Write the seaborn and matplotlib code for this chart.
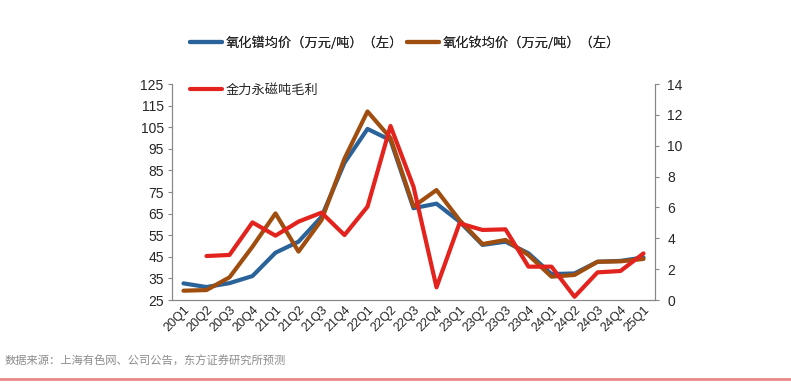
import numpy as np
import pandas as pd
import matplotlib
matplotlib.use("Agg")
import matplotlib.pyplot as plt
import seaborn as sns

categories = ["20Q1", "20Q2", "20Q3", "20Q4", "21Q1", "21Q2", "21Q3", "21Q4",
              "22Q1", "22Q2", "22Q3", "22Q4", "23Q1", "23Q2", "23Q3", "23Q4",
              "24Q1", "24Q2", "24Q3", "24Q4", "25Q1"]
pr_oxide = [32.7, 31.0, 32.8, 36.1, 46.9, 52.0, 63.5, 88.5,
            104.2, 99.0, 67.5, 69.6, 61.3, 50.5, 52.0, 46.6,
            37.0, 37.3, 42.7, 43.1, 44.7]
nd_oxide = [29.3, 29.6, 35.5, 49.7, 65.1, 47.4, 62.0, 90.5,
            112.3, 100.0, 68.3, 75.9, 62.0, 50.9, 52.8, 45.8,
            35.8, 36.6, 42.7, 42.9, 44.0]
jl_margin = [np.nan, 2.85, 2.92, 5.03, 4.17, 5.08, 5.66, 4.21,
             6.05, 11.28, 7.35, 0.82, 4.97, 4.54, 4.58, 2.16,
             2.16, 0.21, 1.79, 1.88, 3.02]

name_pr = "氧化镨均价（万元/吨）（左）"
name_nd = "氧化钕均价（万元/吨）（左）"
name_jl = "金力永磁吨毛利"
left_ticks = list(range(25, 126, 10))
right_ticks = list(range(0, 15, 2))

sns.set_style("white")
plt.rcParams["font.family"] = ["Noto Sans CJK SC", "DejaVu Sans"]

C_BLUE = "#2a6399"
C_BROWN = "#a04d10"
C_RED = "#e3231d"
GRAY = "#888888"

pos = np.arange(len(categories))
df = pd.DataFrame({"pos": pos, "pr": pr_oxide, "nd": nd_oxide, "jl": jl_margin})

fig = plt.figure(figsize=(7.91, 3.84), dpi=100)
ax = fig.add_axes([172 / 791, 1 - 300 / 384, (655 - 172) / 791, (300 - 84) / 384])
ax2 = ax.twinx()

sns.lineplot(data=df, x="pos", y="pr", ax=ax, color=C_BLUE, lw=3, label=name_pr, legend=False)
sns.lineplot(data=df, x="pos", y="nd", ax=ax, color=C_BROWN, lw=3, label=name_nd, legend=False)
sns.lineplot(data=df.dropna(), x="pos", y="jl", ax=ax2, color=C_RED, lw=3, label=name_jl, legend=False)

ax.set_xlim(-0.5, len(categories) - 0.5)
ax.set_ylim(25, 125)
ax2.set_ylim(0, 14)
ax.set_yticks(left_ticks)
ax2.set_yticks(right_ticks)
ax.set_xticks(pos)
ax.set_xticklabels(categories, rotation=45, ha="right", va="top",
                   rotation_mode="anchor", family=["Liberation Sans"], fontsize=9)
ax.set_xticks(np.arange(-0.5, len(categories), 1), minor=True)
ax.tick_params(axis="x", which="major", length=0, pad=3)
ax.tick_params(axis="x", which="minor", length=3, direction="in", color=GRAY)
ax.tick_params(axis="y", length=3, direction="out", color=GRAY, pad=3)
ax2.tick_params(axis="y", length=3, direction="out", color=GRAY, pad=6)
for lab in ax.get_yticklabels() + ax2.get_yticklabels():
    lab.set_family(["Liberation Sans"])
    lab.set_fontsize(10)
ax.set_xlabel("")
ax.set_ylabel("")
ax2.set_ylabel("")

for a in (ax, ax2):
    a.spines["top"].set_visible(False)
    for s in ("left", "right", "bottom"):
        a.spines[s].set_color(GRAY)
        a.spines[s].set_linewidth(0.8)
ax.grid(False)
ax2.grid(False)

h1, l1 = ax.get_legend_handles_labels()
h2, l2 = ax2.get_legend_handles_labels()
leg1 = fig.legend(h1, l1, loc="center left", bbox_to_anchor=(190 / 791, 1 - 43 / 384),
                  ncol=2, frameon=False, fontsize=9.5, borderpad=0, borderaxespad=0,
                  handlelength=2.4, handletextpad=0.3, columnspacing=0.3)
leg2 = fig.legend(h2, l2, loc="center left", bbox_to_anchor=(190 / 791, 1 - 90 / 384),
                  ncol=1, frameon=False, fontsize=9.5, borderpad=0, borderaxespad=0,
                  handlelength=2.4, handletextpad=0.3)
fig.add_artist(leg1)

fig.text(5 / 791, 1 - 361 / 384, "数据来源：上海有色网、公司公告，东方证券研究所预测",
         fontsize=8.1, color="#8c8c8c", ha="left", va="center")
fig.add_artist(plt.Line2D([0, 1], [1 - 379 / 384, 1 - 379 / 384], transform=fig.transFigure,
                          color="#e98a8a", lw=2))

fig.savefig("out.png", dpi=100)
